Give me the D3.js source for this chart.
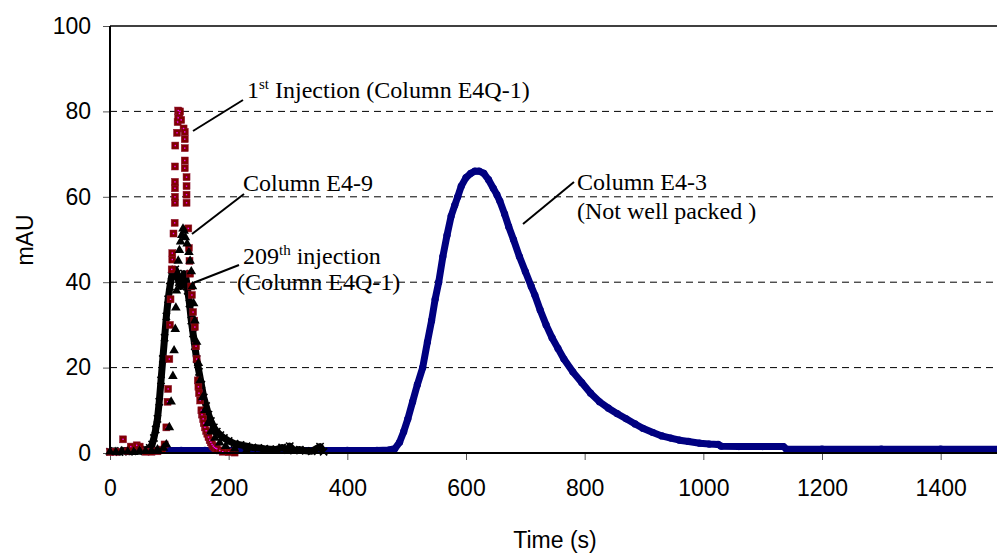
<!DOCTYPE html>
<html>
<head>
<meta charset="utf-8">
<script src="https://cdn.jsdelivr.net/npm/d3@7"></script>
<style>
  body { margin: 0; background: #fff; }
  svg { display: block; }
</style>
</head>
<body>
<div id="chart"></div>
<script>
// ticks
var xTicks = [0, 200, 400, 600, 800, 1000, 1200, 1400];
var yTicks = [0, 20, 40, 60, 80, 100];
var gridValues = [20, 40, 60, 80];

// Column E4-3 (Not well packed) - navy
var e43 = [[96,0.6],[120,0.6],[160,0.6],[200,0.6],[250,0.6],[300,0.6],[350,0.6],[400,0.6],[450,0.6],[470,0.7],
  [480,1],[488,2.5],[495,5],[502,8],[510,12],[518,16],[527,20],[535,26],[542,31],[548,36],[554,40],[561,46],
  [568,51],[575,55.5],[581,58],[586,60],[592,62.5],[600,64.5],[608,65.5],[615,66],[622,66],[630,65.5],[638,64],
  [646,62],[652,60.5],[657,59],[665,56],[672,53],[680,50],[690,46],[700,42.5],[710,39],[716,37],[725,33.5],
  [735,30],[745,27],[755,24.5],[765,22],[780,19],[795,16.5],[810,14],[825,12],[840,10.5],[855,9.2],[870,8],
  [885,6.8],[898,5.8],[915,4.8],[930,4],[945,3.5],[960,3],[975,2.7],[994,2.3],[1010,2.1],[1025,2],[1030,1.6],
  [1060,1.5],[1100,1.5],[1135,1.5],[1140,0.9],[1200,0.9],[1300,0.9],[1400,0.9],[1500,0.9]];

// 1st injection (Column E4Q-1) - red squares
var inj1 = [[0,0.2],[10,0.3],[22,3.2],[30,0.4],[35,1.5],[45,1.8],[50,1.5],[60,0.3],[70,0.3],[80,0.4],[88,0.8],
  [92,2],[95,6],[97,12],[98,15],[100,22],[101,30],[102,36],[104,43],[105,45.3],[105,46.8],[107,51.4],[109,53.9],
  [109.5,58.6],[109.5,60],[109.5,62],[109.5,63.5],[109.5,67.1],[110,72],[113,75],[114,77.5],[115,78.5],[115,80.2],
  [117,79.5],[118,80],[120,78],[124,76],[126,75.2],[126,73.5],[126,71.4],[126,68.5],[126,66.7],[129,64.6],
  [129,62.5],[129,60.5],[129,58.6],[132,52.6],[133,48],[134,45],[135,42],[137,39],[138,37],[140,33],[142,31],
  [143,29.5],[145,25],[146,22],[148,17],[149,15.5],[150,14],[152,12.3],[154,10],[155,9],[157,8],[158,7],[160,6],
  [162,5.2],[164,4.5],[166,3.7],[168,3],[170,2.5],[172,2],[174,1.6],[176,1.3],[178,1.1],[180,1],[185,0.6],
  [190,0.3],[200,0.2],[210,0.1]];

// Column E4-9 - black triangles
var e49 = [[0,0.3],[10,0.2],[20,0.4],[30,0.3],[40,0.2],[50,0.5],[60,0.4],[70,0.6],[80,0.8],[90,1.2],[95,2],
  [100,6],[103,12],[106,18],[108,24],[110,29],[111,34],[112,38],[113,42],[115,45],[117,47.5],[119,49.5],
  [121,51],[123,52.5],[125,52],[127,50.5],[130,49],[133,47],[135,45],[137,42.5],[139,39],[141,35],[143,31],
  [146,26],[149,21],[152,17],[156,13],[160,10],[165,7],[170,5],[177,3.5],[185,2.4],[195,1.6],[210,1],
  [230,0.6],[260,0.4]];

// 209th injection (Column E4Q-1) - black crosses
var inj209 = [[0,0.3],[8,0.5],[16,0.2],[24,0.6],[32,0.3],[40,0.5],[48,0.4],[56,0.6],[62,0.8],[67,1.2],[71,2],
  [74,3.5],[77,5.5],[80,8],[83,12],[86,17],[89,22],[92,27],[95,32],[98,36],[101,39],[104,41.5],[107,42.5],
  [110,43],[113,42],[116,40],[119,39],[122,40.5],[125,42],[128,41],[131,38],[134,35],[137,31],[140,28],
  [143,25],[146,22],[150,19],[154,16],[158,13],[162,11],[166,9],[170,7.5],[175,6],[180,5],[186,4.2],
  [192,3.5],[200,2.8],[210,2.2],[220,1.9],[230,1.6],[240,1.3],[250,1.2],[260,1],[270,0.9],[280,0.8],
  [290,1.3],[300,0.7],[303,1.6],[310,0.6],[320,0.8],[330,0.5],[340,0.4],[354,1.5],[360,0.3]];

var svgWidth = 997;
var svgHeight = 553;

var svg = d3.select('#chart')
  .append('svg')
  .attr('width', svgWidth)
  .attr('height', svgHeight);

var xScale = d3.scaleLinear().domain([0, 1500]).range([110, 1000]);
var yScale = d3.scaleLinear().domain([0, 100]).range([453, 26]);

// dashed gridlines
svg.selectAll('.grid')
  .data(gridValues)
  .enter().append('line')
  .attr('x1', xScale(0)).attr('x2', xScale(1500))
  .attr('y1', d => yScale(d)).attr('y2', d => yScale(d))
  .attr('stroke', '#000')
  .attr('stroke-width', 1)
  .attr('stroke-dasharray', '7,5');

// top border
svg.append('line')
  .attr('x1', xScale(0)).attr('x2', xScale(1500))
  .attr('y1', yScale(100)).attr('y2', yScale(100))
  .attr('stroke', '#000').attr('stroke-width', 1.5);

// axes
var yAxis = d3.axisLeft(yScale).tickValues(yTicks).tickSize(7).tickPadding(12).tickFormat(d3.format('d'));
var xAxis = d3.axisBottom(xScale).tickValues(xTicks).tickSize(7).tickPadding(20).tickFormat(d3.format('d'));

var gy = svg.append('g').attr('transform', 'translate(' + xScale(0) + ',0)').call(yAxis);
var gx = svg.append('g').attr('transform', 'translate(0,' + yScale(0) + ')').call(xAxis);

[gx, gy].forEach(g => {
  g.select('.domain').remove();
  g.selectAll('.tick line').attr('stroke', '#555').attr('stroke-width', 1);
  g.selectAll('.tick text')
    .attr('fill', '#000')
    .style('font-family', '"Liberation Sans", Arial, sans-serif')
    .style('font-size', '23px');
});

var line = d3.line().x(d => xScale(d[0])).y(d => yScale(d[1]));

// Column E4-3 line (drawn first, under the others)
svg.append('path')
  .datum(e43)
  .attr('d', line)
  .attr('fill', 'none')
  .attr('stroke', '#000080')
  .attr('stroke-width', 7)
  .attr('stroke-linejoin', 'round');

svg.selectAll('.e43')
  .data(e43)
  .enter().append('circle')
  .attr('cx', d => xScale(d[0]))
  .attr('cy', d => yScale(d[1]))
  .attr('r', 3.6)
  .attr('fill', '#000080');

// 209th injection - black band with crosses
svg.append('path')
  .datum(inj209)
  .attr('d', line)
  .attr('fill', 'none')
  .attr('stroke', '#000')
  .attr('stroke-width', 7)
  .attr('stroke-linejoin', 'round');

var cross = d3.symbol().type(d3.symbolTimes || d3.symbolCross).size(36);
svg.selectAll('.inj209')
  .data(inj209)
  .enter().append('path')
  .attr('d', cross)
  .attr('transform', d => 'translate(' + xScale(d[0]) + ',' + yScale(d[1]) + ')')
  .attr('fill', 'none')
  .attr('stroke', '#000')
  .attr('stroke-width', 1.6);

// 1st injection - red squares
svg.selectAll('.inj1')
  .data(inj1)
  .enter().append('rect')
  .attr('x', d => xScale(d[0]) - 3.5)
  .attr('y', d => yScale(d[1]) - 3.5)
  .attr('width', 7).attr('height', 7)
  .attr('fill', '#800000')
  .attr('stroke', '#8b1030')
  .attr('stroke-width', 0.5);

svg.selectAll('.inj1dot')
  .data(inj1)
  .enter().append('rect')
  .attr('x', d => xScale(d[0]) - 0.7)
  .attr('y', d => yScale(d[1]) - 0.7)
  .attr('width', 1.4).attr('height', 1.4)
  .attr('fill', '#ff00ff');

// Column E4-9 - black triangles
var tri = d3.symbol().type(d3.symbolTriangle).size(40);
svg.selectAll('.e49')
  .data(e49)
  .enter().append('path')
  .attr('d', tri)
  .attr('transform', d => 'translate(' + xScale(d[0]) + ',' + yScale(d[1]) + ')')
  .attr('fill', '#000');

// axis lines
svg.append('line')
  .attr('x1', xScale(0)).attr('x2', xScale(0))
  .attr('y1', yScale(100)).attr('y2', yScale(0))
  .attr('stroke', '#000').attr('stroke-width', 2);
svg.append('line')
  .attr('x1', xScale(0)).attr('x2', xScale(1500))
  .attr('y1', yScale(0)).attr('y2', yScale(0))
  .attr('stroke', '#000').attr('stroke-width', 2);

// axis titles
svg.append('text')
  .attr('x', 555).attr('y', 548)
  .style('text-anchor', 'middle')
  .style('font-family', '"Liberation Sans", Arial, sans-serif')
  .style('font-size', '23px')
  .text('Time (s)');

svg.append('text')
  .attr('transform', 'rotate(-90)')
  .attr('x', -240).attr('y', 33)
  .style('text-anchor', 'middle')
  .style('font-family', '"Liberation Sans", Arial, sans-serif')
  .style('font-size', '23px')
  .text('mAU');

// annotations
var serif = '"Liberation Serif", "Times New Roman", serif';

function leader(x1, y1, x2, y2) {
  svg.append('line')
    .attr('x1', x1).attr('y1', y1).attr('x2', x2).attr('y2', y2)
    .attr('stroke', '#000').attr('stroke-width', 2);
}

function note(x, y, parts) {
  var t = svg.append('text')
    .attr('x', x).attr('y', y)
    .style('font-family', serif)
    .style('font-size', '24px')
    .attr('fill', '#000');
  parts.forEach(p => {
    var s = t.append('tspan').text(p.text);
    if (p.sup) s.style('font-size', '15px').attr('dy', -9);
    if (p.down) s.attr('dy', 9);
  });
}

leader(243, 100, 193, 131);
note(247, 98, [{text: '1'}, {text: 'st', sup: true}, {text: ' Injection (Column E4Q-1)', down: true}]);

leader(244, 194, 192, 234);
note(243, 191, [{text: 'Column E4-9'}]);

leader(239, 265, 193, 283);
note(243, 264, [{text: '209'}, {text: 'th', sup: true}, {text: ' injection', down: true}]);
note(237, 290, [{text: '(Column E4Q-1)'}]);

leader(574, 182, 523, 224);
note(577, 190, [{text: 'Column E4-3'}]);
note(577, 219, [{text: '(Not well packed )'}]);
</script>
</body>
</html>
